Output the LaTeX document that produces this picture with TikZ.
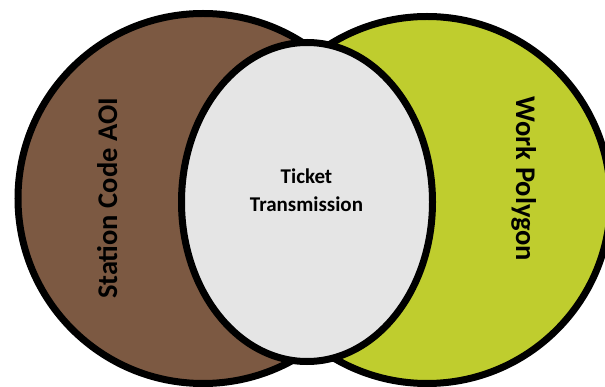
\documentclass[tikz,border=0pt]{standalone}
\usepackage{fontspec}
\setmainfont{Carlito}
\usetikzlibrary{shapes.geometric}
\definecolor{brownfill}{RGB}{124,89,66}
\definecolor{greenfill}{RGB}{191,205,46}
\definecolor{grayfill}{RGB}{229,229,229}
\begin{document}
\begin{tikzpicture}[x=1pt,y=-1pt,
  setshape/.style={ellipse,draw=black,line width=7pt,inner sep=0pt,outer sep=0pt},
  biglabel/.style={font=\bfseries\fontsize{28.5}{30}\selectfont,inner sep=0pt,anchor=base},
  midlabel/.style={font=\bfseries\fontsize{21}{28.4}\selectfont,align=center,inner sep=0pt}]
\useasboundingbox (0,0) rectangle (605,387);
\node[setshape,fill=brownfill,minimum width=370pt,minimum height=370pt] (aoi) at (203,198.5) {};
\node[setshape,fill=greenfill,minimum width=367pt,minimum height=367pt] (work) at (427,200) {};
\node[setshape,fill=grayfill,minimum width=251pt,minimum height=319pt] (ticket) at (307,202) {};
\node[biglabel,rotate=90] (aoilabel) at (117,198.5) {Station Code AOI};
\node[biglabel,rotate=-90] (worklabel) at (516,179) {Work Polygon};
\node[midlabel,anchor=base] (ticketlabel) at (306.5,211.7) {Ticket\\Transmission};
\end{tikzpicture}
\end{document}
